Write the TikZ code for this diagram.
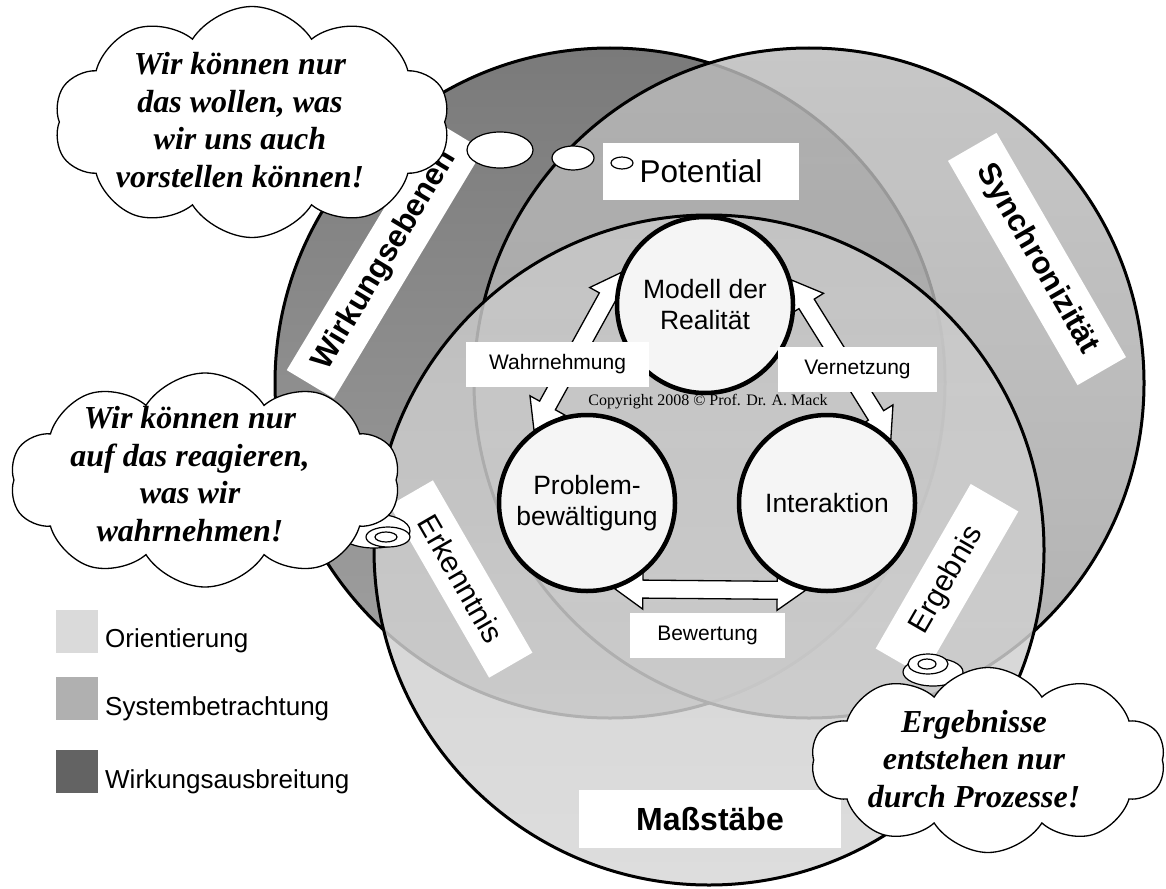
\documentclass[tikz,border=0pt]{standalone}
\usepackage{fontspec}
\setmainfont{Liberation Sans}
\newfontfamily\cloudfont{Liberation Serif}
\usetikzlibrary{shapes.geometric, shapes.symbols, calc}

\definecolor{ebenentop}{HTML}{7A7A7A}
\definecolor{ebenenbot}{HTML}{A2A2A2}
\definecolor{synctop}{HTML}{BCBCBC}
\definecolor{syncbot}{HTML}{A2A2A2}
\definecolor{masstop}{HTML}{C8C8C8}
\definecolor{massbot}{HTML}{D6D6D6}
\definecolor{legA}{HTML}{DADADA}
\definecolor{legB}{HTML}{B0B0B0}
\definecolor{legC}{HTML}{636363}

\pgfdeclarelayer{back}
\pgfsetlayers{back,main}

\begin{document}
\begin{tikzpicture}[x=1pt, y=-1pt,
  ring/.style={circle, draw=black, line width=3pt, minimum size=670pt, inner sep=0pt},
  core/.style={circle, draw=black, line width=4.5pt, fill=black!4, minimum size=176pt, inner sep=0pt, align=center, font=\fontsize{26.5}{31}\selectfont},
  tag/.style={fill=white, inner sep=0pt, minimum height=45pt, font=\fontsize{21}{25}\selectfont},
  band/.style={fill=white, inner sep=0pt, minimum height=55pt},
  bubble/.style={ellipse, draw=black, fill=white, line width=1.2pt, inner sep=0pt},
  thought/.style={cloud, cloud puffs=10, cloud puff arc=115, cloud ignores aspect, draw=black, fill=white, line width=1.3pt, inner sep=0pt},
  thoughttxt/.style={align=center, inner sep=0pt, font=\cloudfont\bfseries\itshape\fontsize{32}{37.5}\selectfont},
  legendsq/.style={minimum width=42pt, minimum height=43pt, inner sep=0pt},
  legendtxt/.style={anchor=base west, inner sep=0pt, font=\fontsize{26}{30}\selectfont},
  blockarrow/.style={draw=black, fill=white, line width=1.3pt, line join=miter,
    to path={
      -- ($(\tikztostart)!28pt!(\tikztotarget)!20pt!90:(\tikztotarget)$)
      -- ($(\tikztostart)!28pt!(\tikztotarget)!9pt!90:(\tikztotarget)$)
      -- ($(\tikztotarget)!28pt!(\tikztostart)!9pt!-90:(\tikztostart)$)
      -- ($(\tikztotarget)!28pt!(\tikztostart)!20pt!-90:(\tikztostart)$)
      -- (\tikztotarget)
      -- ($(\tikztotarget)!28pt!(\tikztostart)!20pt!90:(\tikztostart)$)
      -- ($(\tikztotarget)!28pt!(\tikztostart)!9pt!90:(\tikztostart)$)
      -- ($(\tikztostart)!28pt!(\tikztotarget)!9pt!-90:(\tikztotarget)$)
      -- ($(\tikztostart)!28pt!(\tikztotarget)!20pt!-90:(\tikztotarget)$)
      -- cycle}}]
\useasboundingbox (0,0) rectangle (1166,888);

\node[core] (modell) at (705,305) {Modell der\\Realität};
\node[core] (prob) at (587,503) {Problem-\\bewältigung};
\node[core] (inter) at (827,503) {Interaktion};

\begin{pgfonlayer}{back}
\node[ring, top color=ebenentop, bottom color=ebenenbot] (ebenen) at (610,383) {};
\node[ring, top color=synctop, bottom color=syncbot, fill opacity=.84] (sync) at (809,383) {};
\node[ring, top color=masstop, bottom color=massbot, fill opacity=.84] (mass) at (709,550) {};
\draw[blockarrow] (prob.126) to (modell.159);
\draw[blockarrow] (modell.16) to (inter.45);
\draw[blockarrow] (prob.-72) to (inter.-104);
\end{pgfonlayer}

\node[band, rotate=59, minimum width=290pt, font=\bfseries\fontsize{31}{36}\selectfont] (wirk) at (385,260) {Wirkungsebenen};
\node[band, rotate=-60, minimum width=259pt, minimum height=56pt, font=\bfseries\fontsize{31}{36}\selectfont] (synch) at (1037,259) {Synchronizität};
\node[band, minimum width=196pt, minimum height=57pt, font=\fontsize{31.5}{36}\selectfont] (pot) at (701,171.5) {Potential};
\node[band, rotate=-60, minimum width=199pt, minimum height=50pt, font=\fontsize{30}{36}\selectfont] (erk) at (461,579) {Erkenntnis};
\node[band, rotate=60, minimum width=190pt, font=\fontsize{30}{36}\selectfont] (erg) at (947,580) {Ergebnis};
\node[band, minimum width=262pt, minimum height=58pt, font=\bfseries\fontsize{32}{36}\selectfont] (mst) at (710,819) {Maßstäbe};

\node[tag, minimum width=183pt] (wahr) at (557.5,364.5) {Wahrnehmung};
\node[tag, minimum width=159pt] (vern) at (857.5,369.5) {Vernetzung};
\node[tag, minimum width=155pt] (bew) at (707.5,635.5) {Bewertung};
\node[anchor=base, inner sep=0pt, font=\cloudfont\fontsize{16}{18}\selectfont] (copy) at (708,405) {Copyright 2008 © Prof. Dr. A. Mack};

% Gedankenblasen
\node[bubble, minimum width=66pt, minimum height=36pt] (b1a) at (500,150) {};
\node[bubble, minimum width=42pt, minimum height=24pt] (b1b) at (573,158) {};
\node[bubble, minimum width=22pt, minimum height=12pt] (b1c) at (622,163) {};
\node[bubble, minimum width=72pt, minimum height=34pt] (b2a) at (374,531) {};
\node[bubble, minimum width=44pt, minimum height=20pt] (b2b) at (388,537) {};
\node[bubble, minimum width=22pt, minimum height=10pt] (b2c) at (386,537) {};
\node[bubble, minimum width=60pt, minimum height=28pt] (b3a) at (933,672) {};
\node[bubble, minimum width=40pt, minimum height=20pt] (b3b) at (928,664) {};
\node[bubble, minimum width=18pt, minimum height=10pt] (b3c) at (927,664) {};

\node[thought, minimum width=396pt, minimum height=231pt] (wolkeA) at (252,122) {};
\node[thought, minimum width=390pt, minimum height=214pt] (wolkeB) at (205,480) {};
\node[thought, minimum width=354pt, minimum height=185pt] (wolkeC) at (988,760) {};
\node[thoughttxt] (spruchA) at (240,120) {Wir können nur\\das wollen, was\\wir uns auch\\vorstellen können!};
\node[thoughttxt] (spruchB) at (190,474) {Wir können nur\\auf das reagieren,\\was wir\\wahrnehmen!};
\node[thoughttxt] (spruchC) at (974,759) {Ergebnisse\\entstehen nur\\durch Prozesse!};

\node[legendsq, fill=legA] (sqA) at (77,631.5) {};
\node[legendsq, fill=legB] (sqB) at (77,698.5) {};
\node[legendsq, fill=legC] (sqC) at (77,771.5) {};
\node[legendtxt] (lgA) at (105,647) {Orientierung};
\node[legendtxt] (lgB) at (105,715) {Systembetrachtung};
\node[legendtxt] (lgC) at (105,788) {Wirkungsausbreitung};
\end{tikzpicture}
\end{document}
